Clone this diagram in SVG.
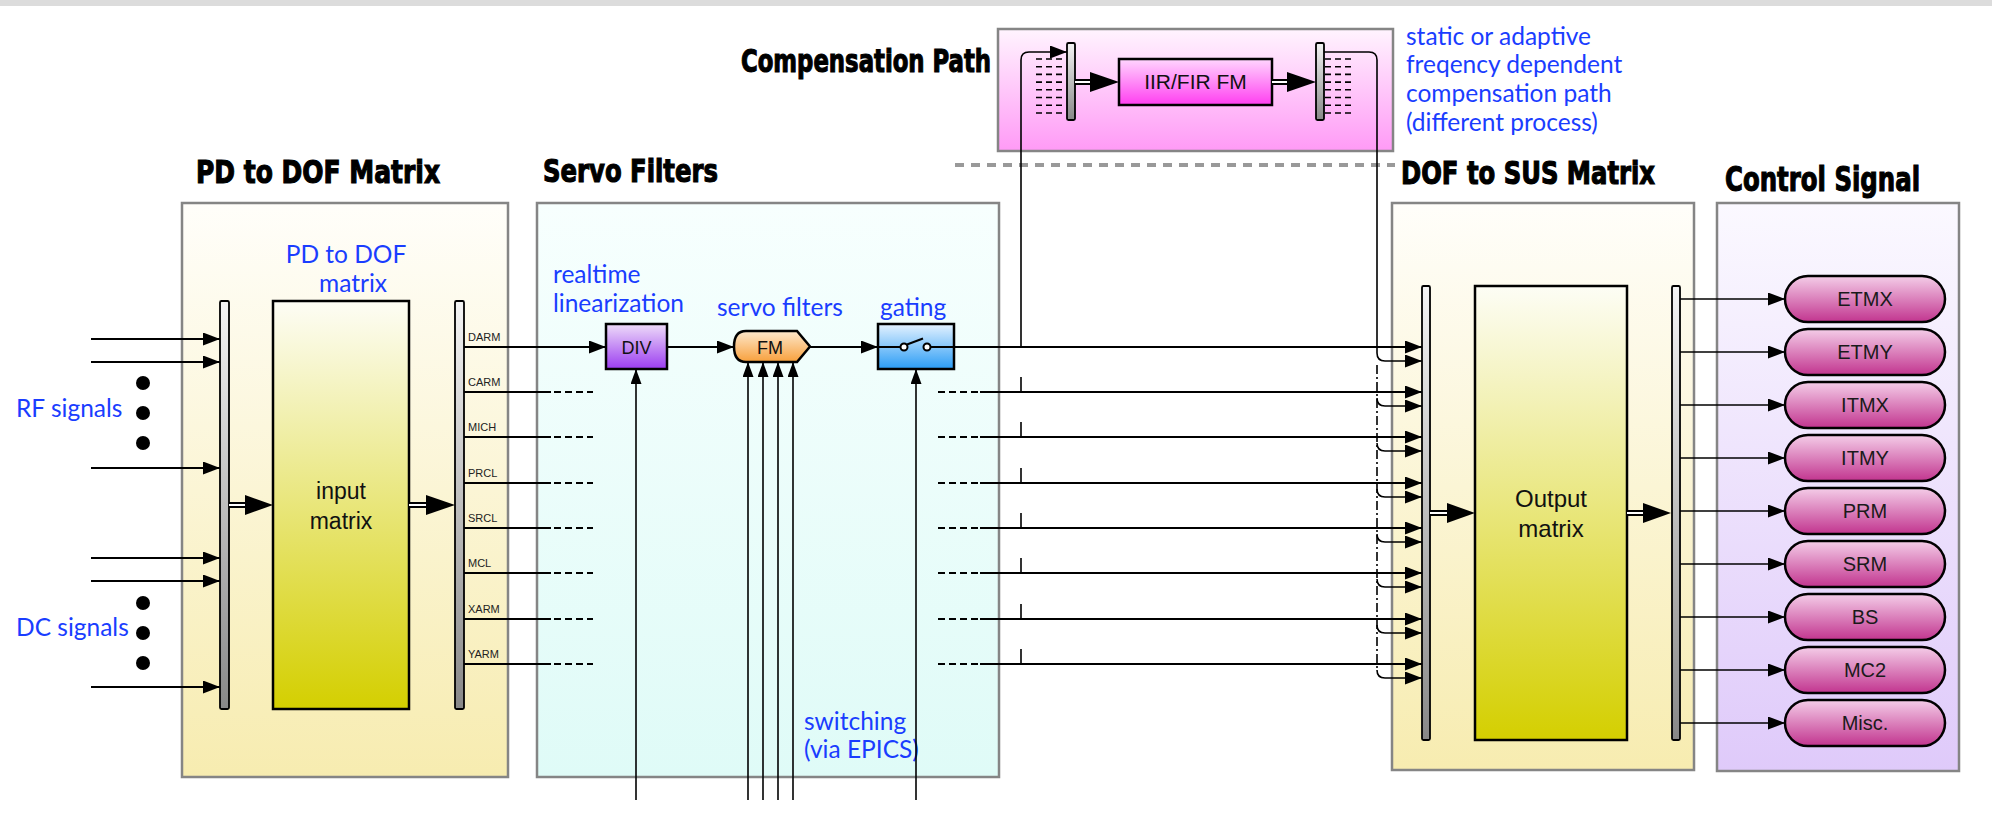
<svg xmlns="http://www.w3.org/2000/svg" width="1992" height="814" viewBox="0 0 1992 814">
<defs>
<linearGradient id="gCream" x1="0" y1="0" x2="0" y2="1"><stop offset="0" stop-color="#fffefa"/><stop offset="1" stop-color="#f7ecb0"/></linearGradient>
<linearGradient id="gMatrix" x1="0" y1="0" x2="0" y2="1"><stop offset="0" stop-color="#fdfdf5"/><stop offset="1" stop-color="#d4cf00"/></linearGradient>
<linearGradient id="gServo" x1="0" y1="0" x2="0" y2="1"><stop offset="0" stop-color="#f7fffe"/><stop offset="1" stop-color="#dffbf7"/></linearGradient>
<linearGradient id="gCtrl" x1="0" y1="0" x2="0" y2="1"><stop offset="0" stop-color="#fbf9ff"/><stop offset="1" stop-color="#dfcafa"/></linearGradient>
<linearGradient id="gComp" x1="0" y1="0" x2="0" y2="1"><stop offset="0" stop-color="#fff4fe"/><stop offset="1" stop-color="#ff9af6"/></linearGradient>
<linearGradient id="gIir" x1="0" y1="0" x2="0" y2="1"><stop offset="0" stop-color="#ffd6fe"/><stop offset="1" stop-color="#ff3ef0"/></linearGradient>
<linearGradient id="gBar" x1="0" y1="0" x2="0" y2="1"><stop offset="0" stop-color="#f4f4f4"/><stop offset="1" stop-color="#888888"/></linearGradient>
<linearGradient id="gDiv" x1="0" y1="0" x2="0" y2="1"><stop offset="0" stop-color="#eedcf9"/><stop offset="1" stop-color="#9b3cf0"/></linearGradient>
<linearGradient id="gFm" x1="0" y1="0" x2="0" y2="1"><stop offset="0" stop-color="#fde8cc"/><stop offset="1" stop-color="#f8a03c"/></linearGradient>
<linearGradient id="gGate" x1="0" y1="0" x2="0" y2="1"><stop offset="0" stop-color="#e4f2ff"/><stop offset="1" stop-color="#2a9cf5"/></linearGradient>
<linearGradient id="gPill" x1="0" y1="0" x2="0" y2="1"><stop offset="0" stop-color="#f4cde8"/><stop offset="1" stop-color="#c2358f"/></linearGradient>
<marker id="arr" markerUnits="userSpaceOnUse" markerWidth="17" markerHeight="13" refX="17" refY="6.5" orient="auto"><path d="M0,0 L17,6.5 L0,13 z" fill="#000"/></marker>
<marker id="arrs" markerUnits="userSpaceOnUse" markerWidth="15" markerHeight="11" refX="15" refY="5.5" orient="auto"><path d="M0,0 L15,5.5 L0,11 z" fill="#000"/></marker>
</defs>
<style>
.box{stroke:#858585;stroke-width:2.5}
.bar{fill:url(#gBar);stroke:#000;stroke-width:1.8}
.mat{fill:url(#gMatrix);stroke:#000;stroke-width:2.5}
.ln{fill:none;stroke:#000;stroke-width:2}
.lnt{fill:none;stroke:#000;stroke-width:1.6}
.dsh{fill:none;stroke:#000;stroke-width:2;stroke-dasharray:7 4}
.title{font-family:"DejaVu Sans Condensed","Liberation Sans Narrow","Liberation Sans",sans-serif;font-weight:bold;font-size:32px;fill:#000;stroke:#000;stroke-width:1.1;paint-order:stroke}
.blue{font-family:Lato,"Noto Sans","Liberation Sans",sans-serif;font-size:24.5px;fill:#1a3dff}
.lbl{font-family:"Liberation Sans",Arial,sans-serif;font-size:11px;fill:#222}
.btxt{font-family:"Liberation Sans",Arial,sans-serif;font-size:18px;fill:#111;text-anchor:middle}
.ptxt{font-family:"Liberation Sans",Arial,sans-serif;font-size:20px;fill:#1a1a1a;text-anchor:middle}
.mtxt{font-family:"Liberation Sans",Arial,sans-serif;font-size:23px;fill:#111;text-anchor:middle}
.pill{fill:url(#gPill);stroke:#000;stroke-width:2.5}
.dbl1{stroke:#000;stroke-width:6}
.dbl2{stroke:#fff;stroke-width:2}
</style>
<rect x="0" y="0" width="1992" height="6" fill="#dcdcdc"/>

<!-- titles -->
<text class="title" x="196" y="183" textLength="244" lengthAdjust="spacingAndGlyphs">PD to DOF Matrix</text>
<text class="title" x="543" y="182" textLength="175" lengthAdjust="spacingAndGlyphs">Servo Filters</text>
<text class="title" x="741" y="72" textLength="250" lengthAdjust="spacingAndGlyphs">Compensation Path</text>
<text class="title" x="1401" y="184" textLength="254" lengthAdjust="spacingAndGlyphs">DOF to SUS Matrix</text>
<text class="title" x="1725" y="191" textLength="195" lengthAdjust="spacingAndGlyphs" style="font-size:34px">Control Signal</text>

<!-- separator -->
<line x1="955" y1="165" x2="1395" y2="165" stroke="#999" stroke-width="4" stroke-dasharray="9 7"/>

<!-- PD to DOF box -->
<g id="pd2dof">
<rect class="box" x="182" y="203" width="326" height="574" fill="url(#gCream)"/>
<text class="blue" x="346" y="263" text-anchor="middle">PD to DOF</text>
<text class="blue" x="353" y="292" text-anchor="middle">matrix</text>
<rect class="bar" x="220" y="301" width="9" height="408" rx="1.5"/>
<rect class="mat" x="273" y="301" width="136" height="408"/>
<text class="mtxt" x="341" y="499">input</text>
<text class="mtxt" x="341" y="529">matrix</text>
<rect class="bar" x="455" y="301" width="9" height="408" rx="1.5"/>
<line class="dbl1" x1="229" y1="505" x2="247" y2="505"/><line class="dbl2" x1="229" y1="505" x2="247" y2="505"/>
<path d="M245,495 L273,505 L245,515 z"/>
<line class="dbl1" x1="409" y1="505" x2="428" y2="505"/><line class="dbl2" x1="409" y1="505" x2="428" y2="505"/>
<path d="M426,495 L455,505 L426,515 z"/>
<text class="lbl" x="468" y="341">DARM</text>
<text class="lbl" x="468" y="386">CARM</text>
<text class="lbl" x="468" y="431">MICH</text>
<text class="lbl" x="468" y="477">PRCL</text>
<text class="lbl" x="468" y="522">SRCL</text>
<text class="lbl" x="468" y="567">MCL</text>
<text class="lbl" x="468" y="613">XARM</text>
<text class="lbl" x="468" y="658">YARM</text>
</g>

<!-- inputs -->
<g id="inputs">
<text class="blue" x="16" y="417">RF signals</text>
<text class="blue" x="16" y="636">DC signals</text>
<g fill="#000">
<circle cx="143" cy="383" r="7"/><circle cx="143" cy="413" r="7"/><circle cx="143" cy="443" r="7"/>
<circle cx="143" cy="603" r="7"/><circle cx="143" cy="633" r="7"/><circle cx="143" cy="663" r="7"/>
</g>
</g>

<!-- Servo box -->
<g id="servo">
<rect class="box" x="537" y="203" width="462" height="574" fill="url(#gServo)"/>
<text class="blue" x="553" y="283">realtime</text>
<text class="blue" x="553" y="312">linearization</text>
<text class="blue" x="717" y="316">servo filters</text>
<text class="blue" x="880" y="316">gating</text>
<text class="blue" x="804" y="730">switching</text>
<text class="blue" x="804" y="758">(via EPICS)</text>
</g>
<g id="div">
<rect x="606" y="324" width="61" height="45" fill="url(#gDiv)" stroke="#000" stroke-width="2.5"/>
<text class="btxt" x="636.5" y="353.5">DIV</text>
</g>
<g id="fm">
<path d="M746,331 H797 L810,346.5 L797,362 H746 Q734,362 734,346.5 Q734,331 746,331 z" fill="url(#gFm)" stroke="#000" stroke-width="2.5"/>
<text class="btxt" x="770" y="353.5">FM</text>
</g>
<g id="gating">
<rect x="878" y="324" width="76" height="45" fill="url(#gGate)" stroke="#000" stroke-width="2.5"/>
<line class="ln" x1="878" y1="347" x2="900.5" y2="347"/>
<line class="ln" x1="930.5" y1="347" x2="954" y2="347"/>
<line class="ln" x1="907" y1="344.5" x2="923" y2="338.5"/>
<circle cx="904" cy="347" r="3.5" fill="#fff" stroke="#000" stroke-width="2"/>
<circle cx="927" cy="347" r="3.5" fill="#fff" stroke="#000" stroke-width="2"/>
</g>

<!-- Compensation path -->
<g id="comp">
<rect class="box" x="998" y="29" width="395" height="122" fill="url(#gComp)"/>
<g class="dsh" style="stroke-width:1.6;stroke-dasharray:6 4">
<path d="M1036,59 H1066 M1036,66.7 H1066 M1036,74.4 H1066 M1036,82.1 H1066 M1036,89.8 H1066 M1036,97.5 H1066 M1036,105.2 H1066 M1036,113 H1066"/>
<path d="M1325,59 H1355 M1325,66.7 H1355 M1325,74.4 H1355 M1325,82.1 H1355 M1325,89.8 H1355 M1325,97.5 H1355 M1325,105.2 H1355 M1325,113 H1355"/>
</g>
<rect class="bar" x="1067" y="43" width="8" height="77" rx="1.5"/>
<rect class="bar" x="1316" y="43" width="8" height="77" rx="1.5"/>
<line class="dbl1" x1="1075" y1="82" x2="1092" y2="82"/><line class="dbl2" x1="1075" y1="82" x2="1092" y2="82"/>
<path d="M1090,72 L1119,82 L1090,92 z"/>
<rect x="1119" y="59" width="153" height="46" fill="url(#gIir)" stroke="#000" stroke-width="2.5"/>
<text class="btxt" x="1195.5" y="89" style="font-size:21px">IIR/FIR FM</text>
<line class="dbl1" x1="1272" y1="82" x2="1289" y2="82"/><line class="dbl2" x1="1272" y1="82" x2="1289" y2="82"/>
<path d="M1287,72 L1316,82 L1287,92 z"/>
<text class="blue" x="1406" y="45">static or adaptive</text>
<text class="blue" x="1406" y="73">freqency dependent</text>
<text class="blue" x="1406" y="102">compensation path</text>
<text class="blue" x="1406" y="131">(different process)</text>
</g>

<!-- DOF to SUS box -->
<g id="dof2sus">
<rect class="box" x="1392" y="203" width="302" height="567" fill="url(#gCream)"/>
<rect class="bar" x="1422" y="286" width="8" height="454" rx="1.5"/>
<rect class="mat" x="1475" y="286" width="152" height="454"/>
<text class="mtxt" x="1551" y="507" style="font-size:24px">Output</text>
<text class="mtxt" x="1551" y="537" style="font-size:24px">matrix</text>
<rect class="bar" x="1672" y="286" width="8" height="454" rx="1.5"/>
<line class="dbl1" x1="1430" y1="513" x2="1449" y2="513"/><line class="dbl2" x1="1430" y1="513" x2="1449" y2="513"/>
<path d="M1447,503 L1475,513 L1447,523 z"/>
<line class="dbl1" x1="1627" y1="513" x2="1645" y2="513"/><line class="dbl2" x1="1627" y1="513" x2="1645" y2="513"/>
<path d="M1643,503 L1671,513 L1643,523 z"/>
</g>

<!-- Control signal box -->
<g id="control">
<rect class="box" x="1717" y="203" width="242" height="568" fill="url(#gCtrl)"/>
</g>
<g id="etmx"><rect class="pill" x="1785" y="276" width="160" height="46" rx="23"/><text class="ptxt" x="1865" y="306">ETMX</text></g>
<g id="etmy"><rect class="pill" x="1785" y="329" width="160" height="46" rx="23"/><text class="ptxt" x="1865" y="359">ETMY</text></g>
<g id="itmx"><rect class="pill" x="1785" y="382" width="160" height="46" rx="23"/><text class="ptxt" x="1865" y="412">ITMX</text></g>
<g id="itmy"><rect class="pill" x="1785" y="435" width="160" height="46" rx="23"/><text class="ptxt" x="1865" y="465">ITMY</text></g>
<g id="prm"><rect class="pill" x="1785" y="488" width="160" height="46" rx="23"/><text class="ptxt" x="1865" y="518">PRM</text></g>
<g id="srm"><rect class="pill" x="1785" y="541" width="160" height="46" rx="23"/><text class="ptxt" x="1865" y="571">SRM</text></g>
<g id="bs"><rect class="pill" x="1785" y="594" width="160" height="46" rx="23"/><text class="ptxt" x="1865" y="624">BS</text></g>
<g id="mc2"><rect class="pill" x="1785" y="647" width="160" height="46" rx="23"/><text class="ptxt" x="1865" y="677">MC2</text></g>
<g id="misc"><rect class="pill" x="1785" y="700" width="160" height="46" rx="23"/><text class="ptxt" x="1865" y="730">Misc.</text></g>

<!-- connectors -->
<g id="connectors">
<!-- inputs -->
<g class="ln" marker-end="url(#arr)">
<line x1="91" y1="339" x2="220" y2="339"/>
<line x1="91" y1="362" x2="220" y2="362"/>
<line x1="91" y1="468" x2="220" y2="468"/>
<line x1="91" y1="558" x2="220" y2="558"/>
<line x1="91" y1="581" x2="220" y2="581"/>
<line x1="91" y1="687" x2="220" y2="687"/>
</g>
<!-- DOF rows left part -->
<line class="ln" x1="464" y1="347" x2="606" y2="347" marker-end="url(#arr)"/>
<line class="ln" x1="667" y1="347" x2="734" y2="347" marker-end="url(#arr)"/>
<line class="ln" x1="810" y1="347" x2="878" y2="347" marker-end="url(#arr)"/>
<g class="ln">
<line x1="464" y1="392" x2="551" y2="392"/>
<line x1="464" y1="437" x2="551" y2="437"/>
<line x1="464" y1="483" x2="551" y2="483"/>
<line x1="464" y1="528" x2="551" y2="528"/>
<line x1="464" y1="573" x2="551" y2="573"/>
<line x1="464" y1="619" x2="551" y2="619"/>
<line x1="464" y1="664" x2="551" y2="664"/>
</g>
<g class="dsh">
<path d="M554,392 H593 M554,437 H593 M554,483 H593 M554,528 H593 M554,573 H593 M554,619 H593 M554,664 H593"/>
<path d="M938,392 H979 M938,437 H979 M938,483 H979 M938,528 H979 M938,573 H979 M938,619 H979 M938,664 H979"/>
</g>
<!-- rows into DOF to SUS -->
<g class="ln" marker-end="url(#arr)">
<line x1="954" y1="347" x2="1422" y2="347"/>
<line x1="980" y1="392" x2="1422" y2="392"/>
<line x1="980" y1="437" x2="1422" y2="437"/>
<line x1="980" y1="483" x2="1422" y2="483"/>
<line x1="980" y1="528" x2="1422" y2="528"/>
<line x1="980" y1="573" x2="1422" y2="573"/>
<line x1="980" y1="619" x2="1422" y2="619"/>
<line x1="980" y1="664" x2="1422" y2="664"/>
</g>
<!-- taps -->
<path class="lnt" d="M1021,377 V392 M1021,422 V437 M1021,468 V483 M1021,513 V528 M1021,558 V573 M1021,604 V619 M1021,649 V664"/>
<!-- compensation path -->
<path class="lnt" d="M1021,347 V60 Q1021,52 1029,52 H1067" marker-end="url(#arr)"/>
<path class="lnt" d="M1324,52 H1369 Q1377,52 1377,60 V353 Q1377,361 1385,361 H1422" marker-end="url(#arr)"/>
<line x1="1377" y1="365" x2="1377" y2="670" stroke="#000" stroke-width="1.6" stroke-dasharray="9 3 2 3"/>
<g class="lnt" marker-end="url(#arr)">
<path d="M1377,398 Q1377,406 1385,406 H1422"/>
<path d="M1377,443 Q1377,451 1385,451 H1422"/>
<path d="M1377,489 Q1377,497 1385,497 H1422"/>
<path d="M1377,534 Q1377,542 1385,542 H1422"/>
<path d="M1377,579 Q1377,587 1385,587 H1422"/>
<path d="M1377,625 Q1377,633 1385,633 H1422"/>
<path d="M1377,670 Q1377,678 1385,678 H1422"/>
</g>
<!-- switching inputs -->
<g class="lnt" marker-end="url(#arrs)">
<line x1="636" y1="800" x2="636" y2="369"/>
<line x1="748" y1="800" x2="748" y2="362"/>
<line x1="763" y1="800" x2="763" y2="362"/>
<line x1="778" y1="800" x2="778" y2="362"/>
<line x1="793" y1="800" x2="793" y2="362"/>
<line x1="916" y1="800" x2="916" y2="369"/>
</g>
<!-- outputs to control -->
<g class="lnt" marker-end="url(#arr)">
<line x1="1680" y1="299" x2="1785" y2="299"/>
<line x1="1680" y1="352" x2="1785" y2="352"/>
<line x1="1680" y1="405" x2="1785" y2="405"/>
<line x1="1680" y1="458" x2="1785" y2="458"/>
<line x1="1680" y1="511" x2="1785" y2="511"/>
<line x1="1680" y1="564" x2="1785" y2="564"/>
<line x1="1680" y1="617" x2="1785" y2="617"/>
<line x1="1680" y1="670" x2="1785" y2="670"/>
<line x1="1680" y1="723" x2="1785" y2="723"/>
</g>
</g>
</svg>
